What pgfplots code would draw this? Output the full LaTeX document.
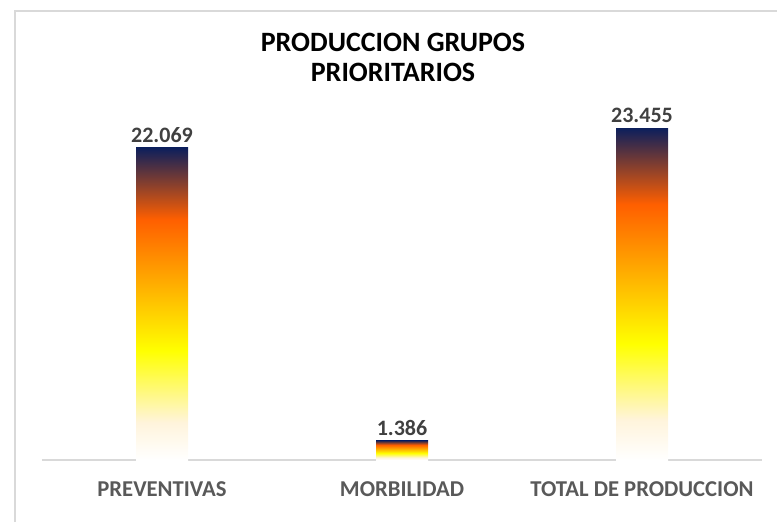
\documentclass[border=0pt]{standalone}
\usepackage{fontspec}
\setmainfont{Carlito}
\usepackage{pgfplots}
\pgfplotsset{compat=1.18}
\definecolor{navyb}{HTML}{0C1F5C}
\definecolor{org}{HTML}{FF5F00}
\definecolor{yel}{HTML}{FFFF00}
\definecolor{cream}{HTML}{FFF4DC}
\definecolor{framegray}{HTML}{D9D9D9}
\definecolor{labgray}{HTML}{595959}
\definecolor{datgray}{HTML}{404040}
\pgfdeclareverticalshading{barshade}{100bp}{color(0bp)=(white); color(25bp)=(white); color(31bp)=(cream); color(42.5bp)=(yel); color(63.5bp)=(org); color(75bp)=(navyb); color(100bp)=(navyb)}
\begin{document}
\begin{tikzpicture}[x=0.75pt,y=0.75pt]
\useasboundingbox (-42,-62) rectangle (735,460);
\draw[color=framegray, line width=1.5pt] (-27,-62) -- (-27,449) -- (735,449);
\begin{axis}[
  at={(0,0)}, anchor=south west, scale only axis,
  width=540pt, height=265.4pt,
  xmin=-0.5, xmax=2.5, ymin=0, ymax=25000,
  ybar, bar width=39pt, bar shift=0pt,
  axis x line*=bottom, axis y line=none,
  x axis line style={color=framegray, line width=1.1pt},
  xtick={0,1,2},
  xticklabels={PREVENTIVAS, MORBILIDAD, TOTAL DE PRODUCCION},
  major tick length=0pt,
  xticklabel style={anchor=base, yshift=-27pt, text=labgray, font=\bfseries\fontsize{17}{20}\selectfont},
  ytick=\empty,
  clip=false,
  nodes near coords,
  /pgf/number format/.cd, assume math mode=true, 1000 sep={.}, fixed,
  /pgfplots/.cd,
  every node near coord/.append style={text=datgray, font=\bfseries\fontsize{16.5}{19}\selectfont, inner sep=3.5pt},
]
\addplot[draw=none, shade, shading=barshade, bar shift=0pt] coordinates {(0,22069)};
\addplot[draw=none, shade, shading=barshade, bar shift=0pt] coordinates {(1,1386)};
\addplot[draw=none, shade, shading=barshade, bar shift=0pt] coordinates {(2,23455)};
\end{axis}
\node[font=\bfseries\fontsize{21}{25}\selectfont, text=black] at (351,418) {PRODUCCION GRUPOS};
\node[font=\bfseries\fontsize{21}{25}\selectfont, text=black] at (351,388) {PRIORITARIOS};
\end{tikzpicture}
\end{document}
